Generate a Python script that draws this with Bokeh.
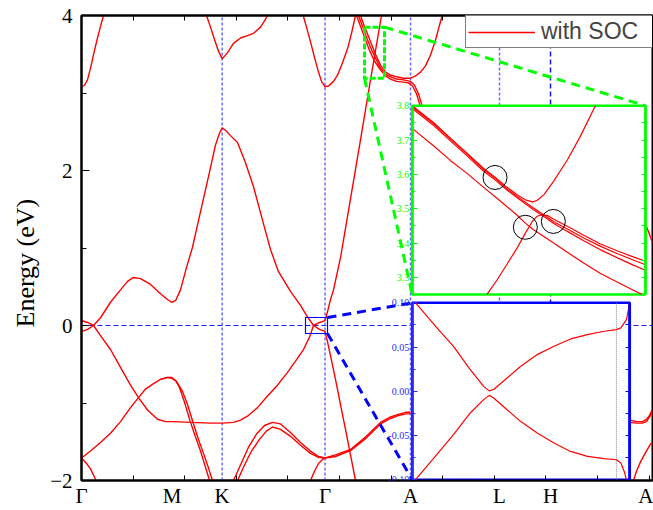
import numpy as np
from bokeh.plotting import figure
from bokeh.models import (Range1d, LinearAxis, FixedTicker, Legend, LegendItem,
                          PrintfTickFormatter, Title)
from bokeh.embed import file_html
from bokeh.resources import INLINE

# ---------------- data ----------------
kpath_labels = ["Γ", "M", "K", "Γ", "A", "L", "H", "A"]
kpath_pos = [0.0, 0.907, 1.407, 2.435, 3.29, 4.18, 4.69, 5.71]

# main bands (k, E in eV)
band1_k = [0.00, 0.06, 0.12, 0.19, 0.29, 0.39, 0.46, 0.52, 0.59, 0.69, 0.79, 0.86, 0.90, 0.94, 0.99, 1.05, 1.11, 1.19, 1.27, 1.34, 1.38, 1.407, 1.44, 1.49, 1.56, 1.64, 1.72, 1.81, 1.89, 1.97, 2.09, 2.19, 2.25, 2.32, 2.38, 2.435, 2.46, 2.49, 2.54, 2.59, 2.64, 2.69, 2.74]
band1_E = [-0.08, -0.05, 0.00, 0.10, 0.30, 0.46, 0.57, 0.62, 0.605, 0.53, 0.41, 0.335, 0.30, 0.32, 0.46, 0.75, 1.01, 1.47, 1.92, 2.33, 2.48, 2.55, 2.52, 2.45, 2.36, 2.10, 1.79, 1.36, 0.98, 0.695, 0.44, 0.26, 0.13, 0.00, -0.05, -0.077, -0.21, -0.39, -0.695, -1.02, -1.34, -1.67, -2.00]

band2_k = [0.00, 0.06, 0.12, 0.19, 0.29, 0.39, 0.49, 0.57, 0.66, 0.76, 0.84, 0.92, 1.09, 1.29, 1.41, 1.52, 1.59, 1.66, 1.76, 1.86, 1.96, 2.06, 2.14, 2.22, 2.28, 2.32, 2.38, 2.435, 2.46, 2.49, 2.52, 2.59, 2.69, 2.79, 2.89, 3.00]
band2_E = [0.064, 0.039, 0.00, -0.13, -0.31, -0.54, -0.77, -0.93, -1.09, -1.21, -1.24, -1.24, -1.25, -1.26, -1.26, -1.25, -1.22, -1.17, -1.06, -0.91, -0.77, -0.605, -0.46, -0.31, -0.15, 0.00, 0.039, 0.064, 0.18, 0.335, 0.46, 0.875, 1.635, 2.395, 3.17, 4.00]

band3a_k = [0.00, 0.09, 0.19, 0.29, 0.39, 0.49, 0.57, 0.64, 0.72, 0.79, 0.86, 0.90, 0.94, 0.98, 1.03, 1.09, 1.14, 1.19, 1.24, 1.28]
band3a_E = [-1.71, -1.62, -1.51, -1.39, -1.24, -1.06, -0.93, -0.82, -0.75, -0.695, -0.67, -0.67, -0.71, -0.80, -0.99, -1.25, -1.44, -1.62, -1.83, -2.00]
band3b_k = [0.79, 0.86, 0.90, 0.95, 1.01, 1.06, 1.12, 1.17, 1.22, 1.27, 1.31]
band3b_E = [-0.695, -0.67, -0.68, -0.72, -0.85, -1.02, -1.27, -1.47, -1.65, -1.84, -2.00]

band4_k = [0.00, 0.05, 0.09, 0.12, 0.145]
band4_E = [-1.71, -1.78, -1.85, -1.93, -2.00]

band5a_k = [1.52, 1.59, 1.67, 1.75, 1.83, 1.91, 1.99, 2.09, 2.19, 2.29, 2.37, 2.435, 2.54, 2.69, 2.84, 2.99, 3.09, 3.16, 3.24, 3.29]
band5a_E = [-2.00, -1.80, -1.57, -1.40, -1.29, -1.25, -1.27, -1.38, -1.51, -1.62, -1.69, -1.71, -1.67, -1.60, -1.44, -1.25, -1.18, -1.15, -1.12, -1.12]
band5b_k = [1.56, 1.63, 1.70, 1.78, 1.85, 1.91, 1.99, 2.09, 2.19, 2.29, 2.37, 2.435, 2.54, 2.69, 2.84, 2.99, 3.09, 3.16, 3.24, 3.29]
band5b_E = [-2.00, -1.80, -1.62, -1.47, -1.36, -1.31, -1.34, -1.43, -1.545, -1.65, -1.70, -1.71, -1.69, -1.615, -1.46, -1.27, -1.20, -1.165, -1.14, -1.14]

band6_k = [2.29, 2.33, 2.37, 2.41, 2.435]
band6_E = [-2.00, -1.88, -1.78, -1.73, -1.71]

band7_k = [0.00, 0.03, 0.06, 0.09, 0.13, 0.16, 0.19, 0.22]
band7_E = [3.08, 3.10, 3.17, 3.32, 3.55, 3.71, 3.86, 4.00]

band8_k = [2.217, 2.25, 2.29, 2.33, 2.37, 2.40, 2.435, 2.47, 2.52, 2.56, 2.61, 2.66, 2.70, 2.74]
band8_E = [4.00, 3.85, 3.66, 3.46, 3.27, 3.15, 3.08, 3.09, 3.15, 3.23, 3.39, 3.57, 3.77, 4.00]

band9_k = [1.25, 1.29, 1.33, 1.37, 1.407, 1.457, 1.52, 1.59, 1.66, 1.72, 1.79, 1.83, 1.86]
band9_E = [4.00, 3.85, 3.69, 3.54, 3.44, 3.515, 3.64, 3.71, 3.74, 3.77, 3.85, 3.93, 4.00]

band10_k = [2.79, 2.82, 2.86, 2.90, 2.94, 2.99, 3.04, 3.09, 3.15, 3.22, 3.29, 3.34, 3.39, 3.44, 3.49, 3.54, 3.58, 3.607]
band10_E = [4.00, 3.89, 3.76, 3.63, 3.50, 3.36, 3.27, 3.23, 3.21, 3.19, 3.19, 3.22, 3.27, 3.35, 3.49, 3.68, 3.875, 4.00]
band11_k = [2.77, 2.81, 2.85, 2.89, 2.94, 2.99, 3.04, 3.09, 3.15, 3.22, 3.29, 3.33, 3.37, 3.40, 3.42]
band11_E = [4.00, 3.86, 3.72, 3.59, 3.45, 3.32, 3.24, 3.21, 3.18, 3.17, 3.15, 3.10, 2.99, 2.86, 2.755]
band12_k = [2.75, 2.79, 2.83, 2.88, 2.93, 2.99, 3.04, 3.09, 3.15, 3.22, 3.27, 3.31, 3.35, 3.38, 3.40]
band12_E = [4.00, 3.86, 3.72, 3.55, 3.41, 3.30, 3.22, 3.18, 3.15, 3.14, 3.13, 3.09, 2.99, 2.86, 2.755]

band13_k = [5.54, 5.59, 5.63, 5.67, 5.71]
band13_E = [1.56, 1.45, 1.34, 1.21, 1.07]
band14a_k = [5.45, 5.48, 5.55, 5.61, 5.65, 5.68, 5.71]
band14a_E = [-1.22, -1.22, -1.24, -1.24, -1.21, -1.16, -1.08]
band14b_k = [5.45, 5.48, 5.55, 5.61, 5.65, 5.68, 5.71]
band14b_E = [-1.25, -1.25, -1.26, -1.26, -1.24, -1.18, -1.11]
band15_k = [5.52, 5.55, 5.59, 5.64, 5.69, 5.71]
band15_E = [-2.00, -1.88, -1.76, -1.64, -1.53, -1.51]

main_bands = [(band1_k, band1_E), (band2_k, band2_E), (band3a_k, band3a_E), (band3b_k, band3b_E),
              (band4_k, band4_E), (band5a_k, band5a_E), (band5b_k, band5b_E), (band6_k, band6_E),
              (band7_k, band7_E), (band8_k, band8_E), (band9_k, band9_E), (band10_k, band10_E),
              (band11_k, band11_E), (band12_k, band12_E), (band13_k, band13_E),
              (band14a_k, band14a_E), (band14b_k, band14b_E), (band15_k, band15_E)]

# green inset (zoom near A, 3.25-3.8 eV)
g_range_k = [2.83, 3.03]
g_range_E = [3.25, 3.80]
g1_k = [2.830, 2.849, 2.863, 2.877, 2.891, 2.901, 2.911, 2.920, 2.927, 2.933, 2.937, 2.943, 2.951, 2.963, 2.974, 2.987]
g1_E = [3.800, 3.749, 3.705, 3.662, 3.618, 3.592, 3.563, 3.541, 3.526, 3.520, 3.524, 3.541, 3.579, 3.642, 3.710, 3.800]
g2_k = [2.830, 2.849, 2.863, 2.877, 2.891, 2.901, 2.911, 2.920, 2.934, 2.946, 2.951, 2.963, 2.977, 2.991, 3.006, 3.020, 3.030]
g2_E = [3.797, 3.746, 3.702, 3.659, 3.615, 3.589, 3.558, 3.536, 3.502, 3.475, 3.463, 3.441, 3.415, 3.391, 3.369, 3.350, 3.337]
g3_k = g2_k
g3_E = [3.792, 3.741, 3.697, 3.654, 3.610, 3.584, 3.555, 3.532, 3.497, 3.470, 3.458, 3.434, 3.407, 3.381, 3.357, 3.335, 3.321]
g4_k = [2.894, 2.903, 2.911, 2.920, 2.927, 2.933, 2.937, 2.941, 2.946, 2.951, 2.963, 2.977, 2.991, 3.006, 3.020, 3.030]
g4_E = [3.250, 3.294, 3.337, 3.386, 3.429, 3.463, 3.478, 3.482, 3.480, 3.470, 3.449, 3.423, 3.398, 3.377, 3.359, 3.347]
g5_k = [2.830, 2.849, 2.863, 2.877, 2.891, 2.906, 2.920, 2.927, 2.934, 2.949, 2.963, 2.977, 2.991, 3.006, 3.020, 3.027]
g5_E = [3.734, 3.681, 3.640, 3.603, 3.563, 3.521, 3.481, 3.458, 3.439, 3.405, 3.373, 3.342, 3.312, 3.286, 3.262, 3.250]
g_circle_k = [2.901, 2.927, 2.951]
g_circle_E = [3.591, 3.446, 3.463]
g_ticks = [3.3, 3.4, 3.5, 3.6, 3.7, 3.8]
g_minor = [3.25, 3.35, 3.45, 3.55, 3.65, 3.75]

# blue inset (zoom near Γ, ±0.1 eV)
b_range_k = [2.252, 2.447]
b_range_E = [-0.10, 0.10]
b1_k = [2.255, 2.274, 2.289, 2.304, 2.316, 2.321, 2.325, 2.337, 2.349, 2.364, 2.379, 2.394, 2.409, 2.424, 2.435, 2.439, 2.444, 2.447]
b1_E = [0.100, 0.072, 0.0509, 0.0245, 0.0056, 0.0005, 0.002, 0.015, 0.028, 0.0415, 0.0509, 0.0592, 0.0641, 0.0679, 0.0698, 0.0717, 0.081, 0.100]
b2_k = [2.255, 2.274, 2.289, 2.304, 2.316, 2.321, 2.325, 2.337, 2.349, 2.364, 2.379, 2.394, 2.409, 2.424, 2.435, 2.439, 2.442, 2.444]
b2_E = [-0.100, -0.0717, -0.049, -0.0245, -0.0094, -0.0046, -0.0075, -0.0208, -0.034, -0.0471, -0.0585, -0.068, -0.0736, -0.0762, -0.0774, -0.081, -0.0906, -0.100]
b_ticks = [-0.10, -0.05, 0.0, 0.05, 0.10]
b_minor = [-0.075, -0.025, 0.025, 0.075]

# zoom windows drawn on the main plot
green_win_k = [2.83, 3.03]
green_win_E = [3.19, 3.85]
blue_win_k = [2.24, 2.46]
blue_win_E = [-0.103, 0.103]

# ---------------- layout / style constants ----------------
X0, X1, Y0, Y1 = 0.0, 5.71, -2.0, 4.0
GREEN_BOX = (3.307, 5.64, 0.399, 2.836)   # where the green inset sits (main coords)
BLUE_BOX = (3.307, 5.483, -1.99, 0.292)
GREEN = "#00ff00"
BLUE = "#0000ff"
RED = "#ff0000"
SERIF = "Liberation Serif"
K_MINOR = list(np.arange(0.516, 5.70, 0.516))

p = figure(width=653, height=510, x_range=Range1d(X0, X1), y_range=Range1d(Y0, Y1),
           output_backend="svg", toolbar_location=None,
           min_border_left=81, min_border_right=1, min_border_top=15, min_border_bottom=29)
p.grid.visible = False
p.outline_line_color = "black"
p.outline_line_width = 2
p.background_fill_color = "white"
p.border_fill_color = "white"


def extra_range(d0, d1, m0, m1, M0, M1):
    s = (d1 - d0) / (m1 - m0)
    return Range1d(d0 - (m0 - M0) * s, d1 + (M1 - m1) * s)


p.extra_x_ranges = {"gx": extra_range(g_range_k[0], g_range_k[1], GREEN_BOX[0], GREEN_BOX[1], X0, X1),
                    "bx": extra_range(b_range_k[0], b_range_k[1], BLUE_BOX[0], BLUE_BOX[1], X0, X1)}
p.extra_y_ranges = {"gy": extra_range(g_range_E[0], g_range_E[1], GREEN_BOX[2], GREEN_BOX[3], Y0, Y1),
                    "by": extra_range(b_range_E[0], b_range_E[1], BLUE_BOX[2], BLUE_BOX[3], Y0, Y1)}

# reference lines
p.segment(x0=[X0], y0=[0.0], x1=[X1], y1=[0.0], line_color="#1a1aff", line_width=1, line_dash="5 3")
for i, kp in enumerate(kpath_pos[2:7]):
    is_h = kpath_labels[i + 2] == "H"
    p.segment(x0=[kp], y0=[Y0], x1=[kp], y1=[Y1], line_color="#1515ee" if is_h else "#6b6bff",
              line_width=1.5, line_dash="5 3" if is_h else "3 2")

# bands
rends = []
for kk, ee in main_bands:
    rends.append(p.line(kk, ee, line_color=RED, line_width=1.4))

# zoom windows
p.quad(left=[blue_win_k[0]], right=[blue_win_k[1]], bottom=[blue_win_E[0]], top=[blue_win_E[1]],
       fill_color=None, line_color=BLUE, line_width=1.2)
p.quad(left=[green_win_k[0]], right=[green_win_k[1]], bottom=[green_win_E[0]], top=[green_win_E[1]],
       fill_color=None, line_color=GREEN, line_width=3, line_dash="6 2")

# connectors
p.segment(x0=[green_win_k[1], green_win_k[0]], y0=[green_win_E[1], green_win_E[0]],
          x1=[GREEN_BOX[1], GREEN_BOX[0]], y1=[GREEN_BOX[3], GREEN_BOX[2]],
          line_color=GREEN, line_width=3, line_dash="9 6")
p.segment(x0=[blue_win_k[1], blue_win_k[1]], y0=[blue_win_E[1], blue_win_E[0]],
          x1=[BLUE_BOX[0], BLUE_BOX[0]], y1=[BLUE_BOX[3], BLUE_BOX[2]],
          line_color=BLUE, line_width=3, line_dash="9 6")

# green inset
p.quad(left=[GREEN_BOX[0]], right=[GREEN_BOX[1]], bottom=[GREEN_BOX[2]], top=[GREEN_BOX[3]],
       fill_color="white", line_color=GREEN, line_width=2.5)
for kk, ee in [(g1_k, g1_E), (g2_k, g2_E), (g3_k, g3_E), (g4_k, g4_E), (g5_k, g5_E)]:
    p.line(kk, ee, line_color=RED, line_width=1.2, x_range_name="gx", y_range_name="gy")
p.scatter(g_circle_k, g_circle_E, marker="circle", size=24, fill_color=None, line_color="black",
          line_width=1, x_range_name="gx", y_range_name="gy")

# blue inset
p.quad(left=[BLUE_BOX[0]], right=[BLUE_BOX[1]], bottom=[BLUE_BOX[2]], top=[BLUE_BOX[3]],
       fill_color="white", line_color=BLUE, line_width=2.5)
p.segment(x0=[kpath_pos[3]], y0=[b_range_E[0]], x1=[kpath_pos[3]], y1=[b_range_E[1]],
          line_color="#888888", line_width=1, line_dash="1 1", x_range_name="bx", y_range_name="by")
for kk, ee in [(b1_k, b1_E), (b2_k, b2_E)]:
    p.line(kk, ee, line_color=RED, line_width=1.2, x_range_name="bx", y_range_name="by")

# ---------------- main axes ----------------
xax = p.xaxis[0]
xax.ticker = FixedTicker(ticks=kpath_pos, minor_ticks=K_MINOR)
xax.major_label_overrides = {kp: lab for kp, lab in zip(kpath_pos, kpath_labels)}
xax.major_tick_in = 0
xax.major_tick_out = 0
xax.minor_tick_in = 5
xax.minor_tick_out = 0
xax.axis_line_width = 2
xax.major_label_text_font = SERIF
xax.major_label_text_font_size = "21px"
xax.major_label_standoff = 3
xax.major_label_text_color = "black"

yax = p.yaxis[0]
yax.ticker = FixedTicker(ticks=[-2, 0, 2, 4], minor_ticks=[-1, 1, 3])
yax.major_tick_in = 8
yax.major_tick_out = 0
yax.minor_tick_in = 5
yax.minor_tick_out = 0
yax.axis_line_width = 2
yax.major_label_text_font = SERIF
yax.major_label_text_font_size = "21px"
yax.major_label_text_color = "black"
yax.major_label_standoff = 9

# y-axis title as a side title (rotated), placed a little below centre like the reference
p.add_layout(Title(text="Energy (eV)", align="left", offset=153, standoff=16,
                   text_font=SERIF, text_font_size="26px", text_font_style="normal",
                   text_color="black"), "left")

# top axis: only inward ticks, no labels
top = LinearAxis(ticker=FixedTicker(ticks=[], minor_ticks=K_MINOR),
                 minor_tick_in=5, minor_tick_out=0, axis_line_width=2)
p.add_layout(top, "above")


# ---------------- inset axes ----------------
def inset_axis(xr, yr, loc, bounds, ticks, minor, color, fmt, side):
    if side == "left":
        tk = FixedTicker(ticks=ticks, minor_ticks=minor)
    else:
        tk = FixedTicker(ticks=[], minor_ticks=sorted(ticks + minor))
    ax = LinearAxis(x_range_name=xr, y_range_name=yr, fixed_location=loc, bounds=tuple(bounds),
                    ticker=tk, formatter=PrintfTickFormatter(format=fmt))
    ax.axis_line_color = color
    ax.axis_line_width = 2.5
    ax.major_tick_line_color = color
    ax.minor_tick_line_color = color
    ax.major_tick_in = 5
    ax.major_tick_out = 0
    ax.minor_tick_in = 3 if side == "left" else 4
    ax.minor_tick_out = 0
    ax.major_label_text_color = color
    ax.major_label_text_font = SERIF
    ax.major_label_text_font_size = "10px"
    ax.major_label_standoff = 3
    p.add_layout(ax, side)


inset_axis("gx", "gy", g_range_k[0], g_range_E, g_ticks, g_minor, GREEN, "%.1f", "left")
inset_axis("gx", "gy", g_range_k[1], g_range_E, g_ticks, g_minor, GREEN, "%.1f", "right")
inset_axis("bx", "by", b_range_k[0], b_range_E, b_ticks, b_minor, "#2a2aff", "%.2f", "left")
inset_axis("bx", "by", b_range_k[1], b_range_E, b_ticks, b_minor, BLUE, "%.2f", "right")

# ---------------- legend ----------------
legend = Legend(items=[LegendItem(label="with SOC", renderers=[rends[0]])],
                location=(384, 432), border_line_color="black", border_line_width=1,
                background_fill_color="white", background_fill_alpha=1.0,
                padding=2, margin=0, spacing=0, glyph_width=67, glyph_height=22,
                label_standoff=6, label_width=109,
                label_text_font="Liberation Sans", label_text_font_size="23px")
p.add_layout(legend, "center")

open("out.html", "w", encoding="utf-8").write(file_html(p, INLINE))
